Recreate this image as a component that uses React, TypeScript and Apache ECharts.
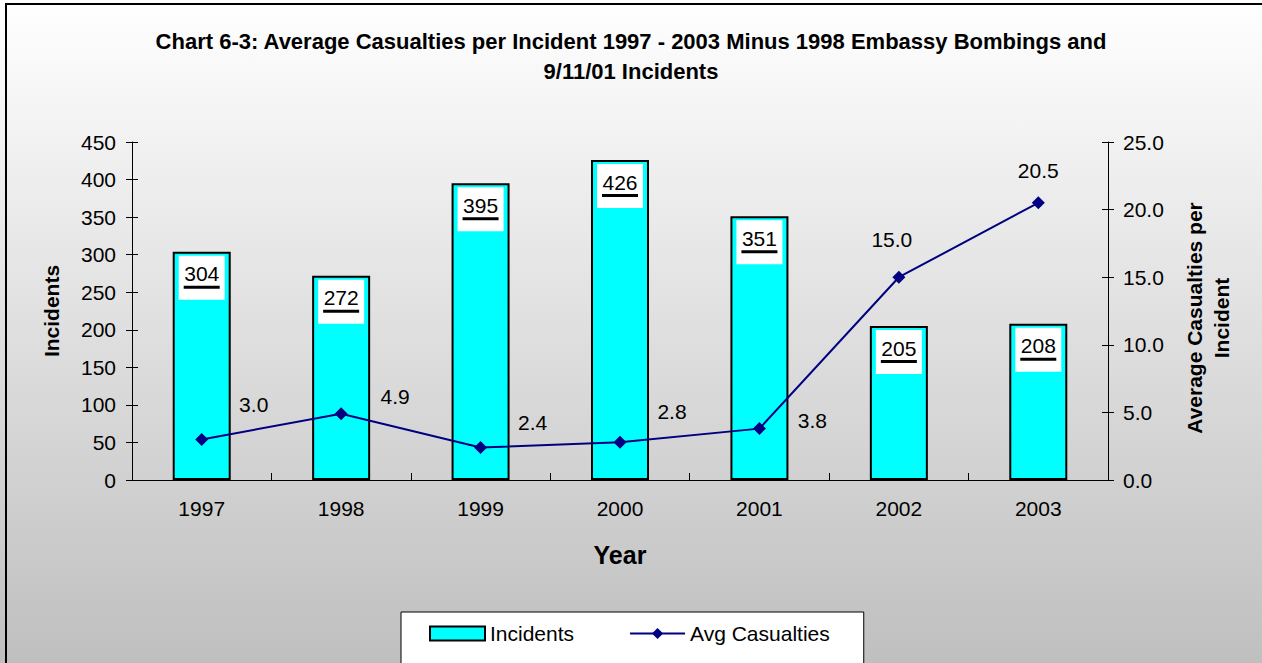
import React, { useEffect, useRef } from "react";
import * as echarts from "echarts";

const years = ["1997", "1998", "1999", "2000", "2001", "2002", "2003"];
const incidents = [304, 272, 395, 426, 351, 205, 208];
const avgCasualties = [3.0, 4.9, 2.4, 2.8, 3.8, 15.0, 20.5];
const leftTicks = { min: 0, max: 450, interval: 50 };
const rightTicks = { min: 0, max: 25, interval: 5 };
// label placement (style, not data)
const lineLabelOffsets = [
  [52, -35],
  [54, -17],
  [52, -25],
  [52, -31],
  [53, -8],
  [-7, -38],
  [0, -32],
];

const FONT = "'Liberation Sans', Arial, sans-serif";

export default function App() {
  const ref = useRef<HTMLDivElement>(null);
  useEffect(() => {
    if (!ref.current) return;
    const chart = echarts.init(ref.current, null, { renderer: "svg" });
    const axisLine = { show: true, lineStyle: { color: "#000", width: 1 } };
    chart.setOption({
      animation: false,
      textStyle: { fontFamily: FONT },
      graphic: [
        {
          type: "rect",
          z: -100,
          silent: true,
          shape: { x: 0, y: 0, width: 1262, height: 663 },
          style: {
            fill: new echarts.graphic.LinearGradient(0, 0, 0, 1, [
              { offset: 0, color: "#ffffff" },
              { offset: 1, color: "#bfbfbf" },
            ]),
          },
        },
        {
          type: "polyline",
          z: -99,
          silent: true,
          shape: { points: [[6, 663], [6, 4], [1262, 4]] },
          style: { stroke: "#000", lineWidth: 2, fill: "none" },
        },
      ],
      title: {
        text:
          "Chart 6-3: Average Casualties per Incident 1997 - 2003 Minus 1998 Embassy Bombings and\n9/11/01 Incidents",
        left: "center",
        top: 21,
        textStyle: {
          fontFamily: FONT,
          fontSize: 22,
          fontWeight: "bold",
          lineHeight: 30,
          color: "#000",
        },
      },
      legend: {
        left: 401,
        top: 612,
        backgroundColor: "#fff",
        borderColor: "#000",
        borderWidth: 1,
        borderRadius: 0,
        padding: [11, 34, 30, 28],
        itemWidth: 55,
        itemHeight: 14,
        itemGap: 55,
        textStyle: { fontFamily: FONT, fontSize: 21, color: "#000" },
        data: [
          { name: "Incidents", icon: "rect" },
          { name: "Avg Casualties" },
        ],
      },
      grid: { left: 132, right: 154, top: 142, bottom: 183, containLabel: false },
      xAxis: {
        type: "category",
        data: years,
        name: "Year",
        nameLocation: "middle",
        nameGap: 62,
        nameTextStyle: { fontFamily: FONT, fontSize: 25, fontWeight: "bold", color: "#000" },
        axisLine,
        axisTick: { show: true, inside: true, length: 7, lineStyle: { color: "#000" } },
        axisLabel: { fontFamily: FONT, fontSize: 21, color: "#000", margin: 18 },
      },
      yAxis: [
        {
          type: "value",
          position: "left",
          ...leftTicks,
          name: "Incidents",
          nameLocation: "middle",
          nameRotate: 90,
          nameGap: 70,
          nameTextStyle: { fontFamily: FONT, fontSize: 21, fontWeight: "bold", color: "#000" },
          axisLine,
          axisTick: { show: true, length: 6, lineStyle: { color: "#000" } },
          axisLabel: { fontFamily: FONT, fontSize: 21, color: "#000", margin: 16 },
          splitLine: { show: false },
        },
        {
          type: "value",
          position: "right",
          ...rightTicks,
          name: "Average Casualties per\nIncident",
          nameLocation: "middle",
          nameRotate: 90,
          nameGap: 73,
          nameTextStyle: {
            fontFamily: FONT,
            fontSize: 21,
            fontWeight: "bold",
            color: "#000",
            lineHeight: 27,
            padding: [0, 14, 0, 0],
          },
          axisLine,
          axisTick: { show: true, length: 6, lineStyle: { color: "#000" } },
          axisLabel: {
            fontFamily: FONT,
            fontSize: 21,
            color: "#000",
            margin: 15,
            formatter: (v: number) => v.toFixed(1),
          },
          splitLine: { show: false },
        },
        {
          type: "value",
          position: "left",
          ...leftTicks,
          axisLine: { show: false },
          axisTick: { show: true, inside: true, length: 6, lineStyle: { color: "#000" } },
          axisLabel: { show: false },
          splitLine: { show: false },
        },
        {
          type: "value",
          position: "right",
          ...rightTicks,
          axisLine: { show: false },
          axisTick: { show: true, inside: true, length: 6, lineStyle: { color: "#000" } },
          axisLabel: { show: false },
          splitLine: { show: false },
        },
      ],
      series: [
        {
          name: "Incidents",
          type: "bar",
          yAxisIndex: 0,
          data: incidents,
          barWidth: 58,
          itemStyle: { color: "#00ffff", borderColor: "#000", borderWidth: 2 },
          label: {
            show: true,
            position: "insideTop",
            distance: 4,
            backgroundColor: "#fff",
            padding: [6, 5, 11, 5],
            formatter: (p: any) => `{n|${p.value}}\n{u|}`,
            rich: {
              n: { fontFamily: FONT, fontSize: 21, color: "#000", lineHeight: 24, align: "center" },
              u: { width: 36, height: 3, lineHeight: 3, fontSize: 1, backgroundColor: "#000", align: "center" },
            },
          },
        },
        {
          name: "Avg Casualties",
          type: "line",
          yAxisIndex: 1,
          symbol: "diamond",
          symbolSize: 13,
          lineStyle: { color: "#000080", width: 2 },
          itemStyle: { color: "#000080" },
          data: avgCasualties.map((v, i) => ({
            value: v,
            label: { offset: lineLabelOffsets[i] },
          })),
          label: {
            show: true,
            position: "inside",
            fontFamily: FONT,
            fontSize: 21,
            color: "#000",
            formatter: (p: any) => Number(p.value).toFixed(1),
          },
        },
      ],
    });
    return () => chart.dispose();
  }, []);
  return (
    <div
      ref={ref}
      style={{ position: "absolute", left: 0, top: 0, width: 1262, height: 663 }}
    />
  );
}
